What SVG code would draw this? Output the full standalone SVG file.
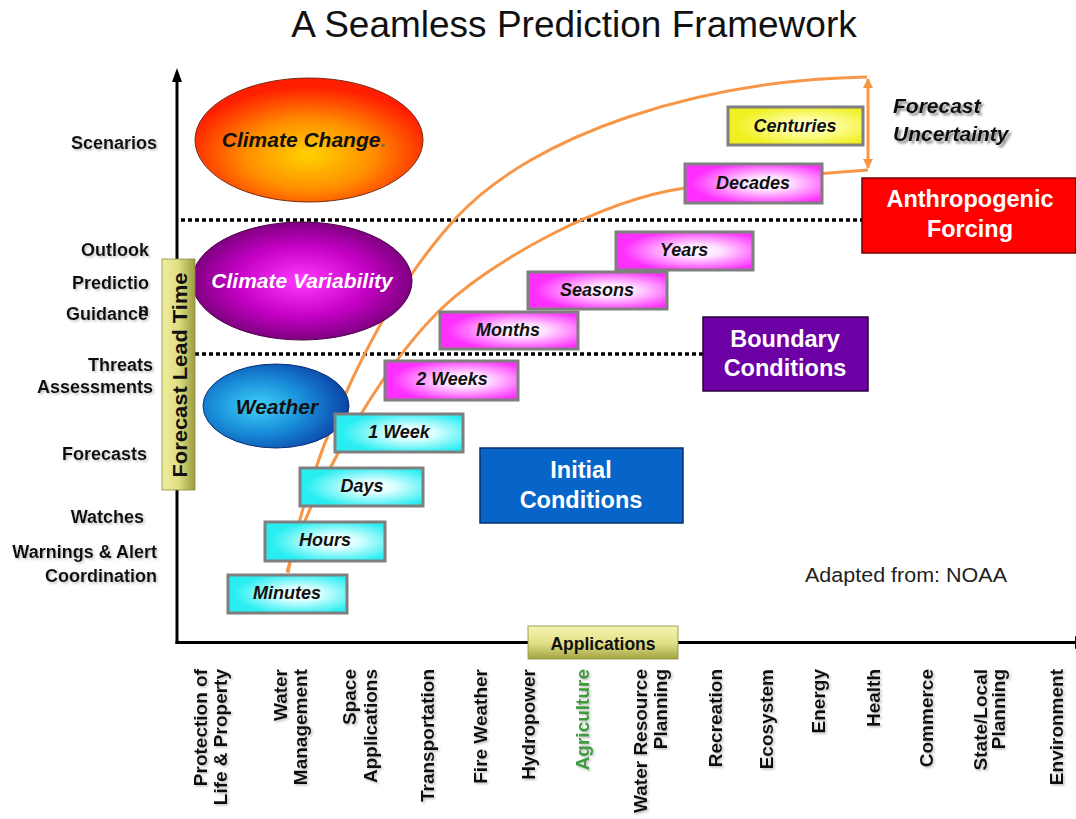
<svg xmlns="http://www.w3.org/2000/svg" width="1076" height="819" viewBox="0 0 1076 819">
<defs>
<radialGradient id="gCC" cx="0.5" cy="0.62" r="0.55"><stop offset="0" stop-color="#ffd200"/><stop offset="0.5" stop-color="#ff9000"/><stop offset="1" stop-color="#ff1e00"/></radialGradient>
<radialGradient id="gCV" cx="0.5" cy="0.5" r="0.55"><stop offset="0" stop-color="#ff3cff"/><stop offset="0.55" stop-color="#c400c4"/><stop offset="1" stop-color="#6e0070"/></radialGradient>
<radialGradient id="gW" cx="0.38" cy="0.5" r="0.62"><stop offset="0" stop-color="#3fd2f6"/><stop offset="0.5" stop-color="#1a8fda"/><stop offset="1" stop-color="#0a44a8"/></radialGradient>
<radialGradient id="gPink" cx="0.6" cy="0.5" r="0.55"><stop offset="0" stop-color="#ffffff"/><stop offset="0.3" stop-color="#ffe4ff"/><stop offset="1" stop-color="#ff30ff"/></radialGradient>
<radialGradient id="gCyan" cx="0.6" cy="0.5" r="0.55"><stop offset="0" stop-color="#ffffff"/><stop offset="0.3" stop-color="#e0ffff"/><stop offset="1" stop-color="#28eef2"/></radialGradient>
<radialGradient id="gYel" cx="0.6" cy="0.5" r="0.55"><stop offset="0" stop-color="#ffffe0"/><stop offset="0.3" stop-color="#ffffa8"/><stop offset="1" stop-color="#f0f020"/></radialGradient>
<linearGradient id="gOliveH" x1="0" y1="0" x2="1" y2="0"><stop offset="0" stop-color="#eeeea0"/><stop offset="0.5" stop-color="#dede84"/><stop offset="1" stop-color="#9c9c3c"/></linearGradient>
<linearGradient id="gOliveV" x1="0" y1="0" x2="0" y2="1"><stop offset="0" stop-color="#f4f4b0"/><stop offset="0.5" stop-color="#e2e28a"/><stop offset="1" stop-color="#a4a444"/></linearGradient>
<filter id="sh" x="-10%" y="-30%" width="130%" height="170%"><feDropShadow dx="1.5" dy="1.5" stdDeviation="0.8" flood-color="#888" flood-opacity="0.55"/></filter>
<filter id="sh2" x="-10%" y="-30%" width="130%" height="170%"><feDropShadow dx="2.5" dy="2.5" stdDeviation="1.2" flood-color="#555" flood-opacity="0.7"/></filter>
<marker id="arr" viewBox="0 0 10 10" refX="9" refY="5" markerWidth="10" markerHeight="10" markerUnits="userSpaceOnUse" orient="auto-start-reverse"><path d="M0,0 L10,5 L0,10 Z" fill="#f79646"/></marker>
</defs>
<style>
text{font-family:"Liberation Sans",Arial,sans-serif;}
.lab{font-weight:bold;font-size:18px;fill:#111;text-anchor:end;}
.app{font-weight:bold;font-size:19px;fill:#111;text-anchor:end;}
.box{stroke:#7f7f7f;stroke-width:3;}
.bl{font-weight:bold;font-style:italic;font-size:18px;fill:#111;text-anchor:middle;}
.big{font-weight:bold;font-size:23.5px;fill:#fff;text-anchor:middle;}
.ell{font-weight:bold;font-style:italic;font-size:21px;text-anchor:middle;}
.dot{stroke:#000;stroke-width:3.5;stroke-dasharray:4 3;fill:none;}
.curve{stroke:#f79646;stroke-width:3;fill:none;}
</style>
<rect width="1076" height="819" fill="#fff"/>

<text x="574" y="37" text-anchor="middle" font-size="37" fill="#111">A Seamless Prediction Framework</text>

<g id="axes">
<line x1="177" y1="80" x2="177" y2="644" stroke="#000" stroke-width="3"/>
<polygon points="177,68 172,82 182,82" fill="#000"/>
<line x1="175.5" y1="642.5" x2="1075" y2="642.5" stroke="#000" stroke-width="3"/>
<polygon points="1075,636 1075,649 1089,642.5" fill="#000"/>
</g>

<g id="connectors">
<line class="dot" x1="181" y1="220" x2="862" y2="220"/>
<line class="dot" x1="181" y1="354" x2="703" y2="354"/>
<path class="curve" d="M288,573 C310,450 380,300 457,217 C534,134 700,80 867,77"/>
<path class="curve" d="M287,572 C305,500 380,370 437,313 C487,263 600,200 685,188 Q760,178 868,170"/>
<line class="curve" x1="868" y1="79" x2="868" y2="168" marker-start="url(#arr)" marker-end="url(#arr)"/>
</g>

<g id="climate-change">
<ellipse cx="309" cy="140" rx="114" ry="62" fill="url(#gCC)" stroke="#7a2a10" stroke-width="1"/>
<text class="ell" x="304" y="147" fill="#111">Climate Change<tspan fill="#8a6a50">.</tspan></text>
</g>
<g id="climate-variability">
<ellipse cx="302" cy="281" rx="110" ry="59" fill="url(#gCV)" stroke="#4a004a" stroke-width="1"/>
<text class="ell" x="302" y="288" fill="#fff">Climate Variability</text>
</g>
<g id="weather">
<ellipse cx="276" cy="406" rx="73" ry="42" fill="url(#gW)" stroke="#0a3070" stroke-width="1"/>
<text class="ell" x="277" y="414" fill="#111">Weather</text>
</g>

<g id="centuries"><rect class="box" x="728" y="107" width="135" height="38" fill="url(#gYel)"/><text class="bl" x="795" y="132">Centuries</text></g>
<g id="decades"><rect class="box" x="685" y="164" width="137" height="39" fill="url(#gPink)"/><text class="bl" x="753" y="189">Decades</text></g>
<g id="years"><rect class="box" x="616" y="232" width="137" height="38" fill="url(#gPink)"/><text class="bl" x="684" y="256">Years</text></g>
<g id="seasons"><rect class="box" x="528" y="272" width="139" height="37" fill="url(#gPink)"/><text class="bl" x="597" y="296">Seasons</text></g>
<g id="months"><rect class="box" x="440" y="312" width="138" height="37" fill="url(#gPink)"/><text class="bl" x="508" y="336">Months</text></g>
<g id="two-weeks"><rect class="box" x="385" y="361" width="133" height="39" fill="url(#gPink)"/><text class="bl" x="452" y="385">2 Weeks</text></g>
<g id="one-week"><rect class="box" x="335" y="414" width="128" height="38" fill="url(#gCyan)"/><text class="bl" x="399" y="438">1 Week</text></g>
<g id="days"><rect class="box" x="300" y="468" width="123" height="38" fill="url(#gCyan)"/><text class="bl" x="362" y="492">Days</text></g>
<g id="hours"><rect class="box" x="265" y="522" width="120" height="39" fill="url(#gCyan)"/><text class="bl" x="325" y="546">Hours</text></g>
<g id="minutes"><rect class="box" x="228" y="575" width="119" height="38" fill="url(#gCyan)"/><text class="bl" x="287" y="599">Minutes</text></g>

<g id="anthropogenic-forcing">
<rect x="862" y="178" width="214" height="75" fill="#ff0000" stroke="#700000" stroke-width="1.5"/>
<text class="big" x="970" y="207">Anthropogenic</text>
<text class="big" x="970" y="237">Forcing</text>
</g>
<g id="boundary-conditions">
<rect x="703" y="317" width="165" height="74" fill="#6c00a4" stroke="#2a0040" stroke-width="1.5"/>
<text class="big" x="785" y="347">Boundary</text>
<text class="big" x="785" y="376">Conditions</text>
</g>
<g id="initial-conditions">
<rect x="480" y="448" width="203" height="75" fill="#0764c8" stroke="#06306e" stroke-width="1.5"/>
<text class="big" x="581" y="478">Initial</text>
<text class="big" x="581" y="508">Conditions</text>
</g>

<g id="forecast-uncertainty" filter="url(#sh2)">
<text x="893" y="113" font-weight="bold" font-style="italic" font-size="21" fill="#111">Forecast</text>
<text x="893" y="141" font-weight="bold" font-style="italic" font-size="21" fill="#111">Uncertainty</text>
</g>

<g id="forecast-lead-time">
<rect x="162" y="259" width="33" height="231" fill="url(#gOliveH)" stroke="#8a8a40" stroke-width="0.8"/>
<text transform="translate(187,375) rotate(-90)" x="0" y="0" text-anchor="middle" font-weight="bold" font-size="21" fill="#111" textLength="205" lengthAdjust="spacingAndGlyphs">Forecast Lead Time</text>
</g>

<g id="applications">
<rect x="528" y="626" width="150" height="33" fill="url(#gOliveV)" stroke="#8a8a40" stroke-width="0.8"/>
<text x="603" y="650" text-anchor="middle" font-weight="bold" font-size="17.5" fill="#111">Applications</text>
</g>

<g id="lead-time-labels" filter="url(#sh)">
<text class="lab" x="157" y="149">Scenarios</text>
<text class="lab" x="149" y="256">Outlook</text>
<text class="lab" x="149" y="289">Predictio</text>
<text class="lab" x="149" y="316" font-size="15">n</text>
<text class="lab" x="148" y="320">Guidance</text>
<text class="lab" x="153" y="371">Threats</text>
<text class="lab" x="153" y="393">Assessments</text>
<text class="lab" x="147" y="460">Forecasts</text>
<text class="lab" x="144" y="523">Watches</text>
<text class="lab" x="157" y="558">Warnings &amp; Alert</text>
<text class="lab" x="157" y="582">Coordination</text>
</g>

<g id="application-labels" filter="url(#sh)">
<text class="app" transform="translate(207,669) rotate(-90)">Protection of</text>
<text class="app" transform="translate(227,669) rotate(-90)">Life &amp; Property</text>
<text class="app" transform="translate(287,669) rotate(-90)">Water</text>
<text class="app" transform="translate(307,669) rotate(-90)">Management</text>
<text class="app" transform="translate(356,669) rotate(-90)">Space</text>
<text class="app" transform="translate(377,669) rotate(-90)">Applications</text>
<text class="app" transform="translate(434,669) rotate(-90)">Transportation</text>
<text class="app" transform="translate(487,669) rotate(-90)">Fire Weather</text>
<text class="app" transform="translate(535,669) rotate(-90)">Hydropower</text>
<text class="app" transform="translate(589,669) rotate(-90)" style="fill:#3c9a3c">Agriculture</text>
<text class="app" transform="translate(647,669) rotate(-90)">Water Resource</text>
<text class="app" transform="translate(667,669) rotate(-90)">Planning</text>
<text class="app" transform="translate(722,669) rotate(-90)">Recreation</text>
<text class="app" transform="translate(773,669) rotate(-90)">Ecosystem</text>
<text class="app" transform="translate(825,669) rotate(-90)">Energy</text>
<text class="app" transform="translate(880,669) rotate(-90)">Health</text>
<text class="app" transform="translate(933,669) rotate(-90)">Commerce</text>
<text class="app" transform="translate(987,669) rotate(-90)">State/Local</text>
<text class="app" transform="translate(1005,669) rotate(-90)">Planning</text>
<text class="app" transform="translate(1063,669) rotate(-90)">Environment</text>
</g>

<text x="805" y="582" font-size="20.5" fill="#222" textLength="202" lengthAdjust="spacingAndGlyphs">Adapted from: NOAA</text>
</svg>
